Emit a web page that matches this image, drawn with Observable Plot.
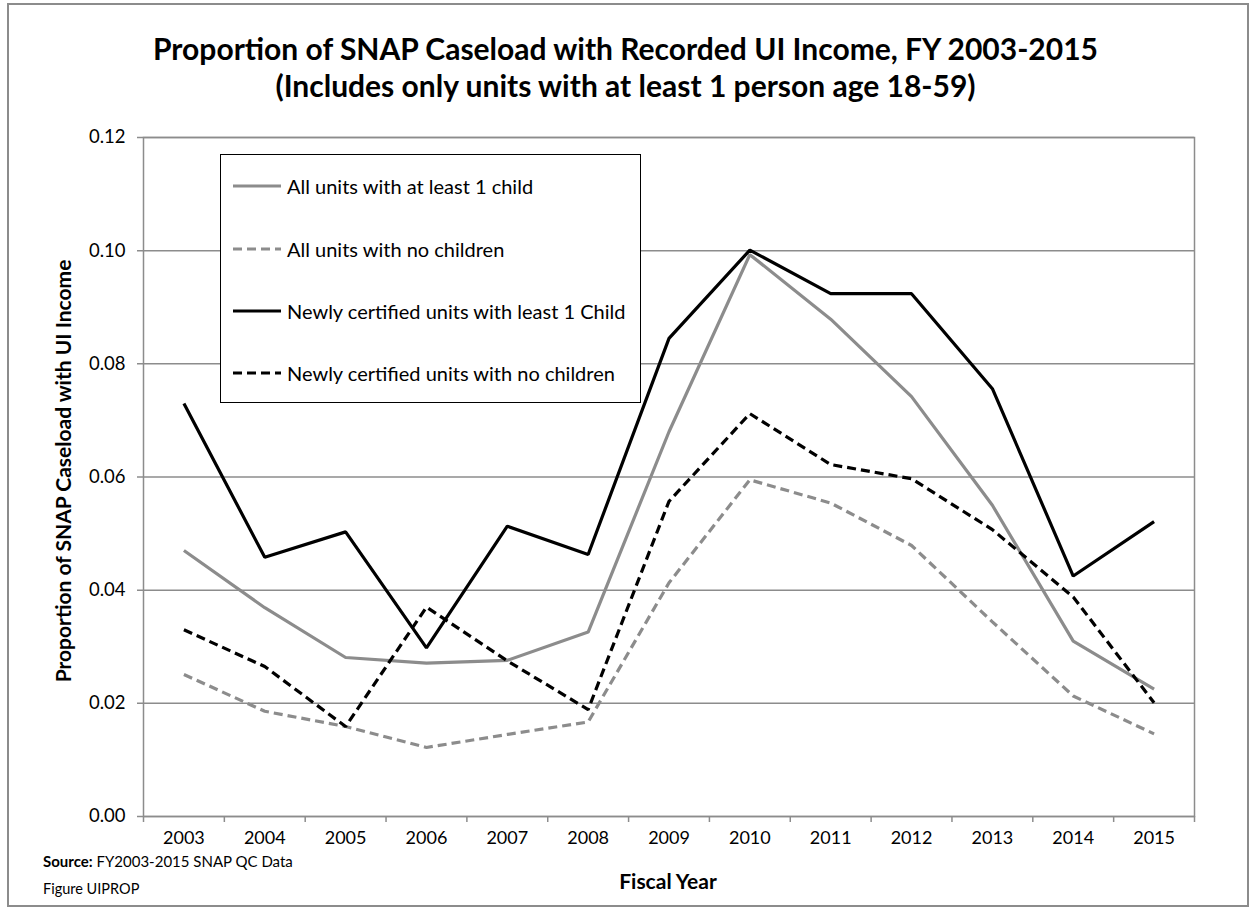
<!DOCTYPE html>
<html>
<head>
<meta charset="utf-8">
<script src="https://cdn.jsdelivr.net/npm/d3@7"></script>
<script src="https://cdn.jsdelivr.net/npm/@observablehq/plot@0.6"></script>
<style>
  html, body { margin: 0; padding: 0; background: #fff; }
  #wrap { position: relative; width: 1251px; height: 909px; overflow: hidden; font-family: "Lato", "Open Sans", sans-serif; color: #000; }
  #border { position: absolute; left: 7px; top: 3px; width: 1242px; height: 904px; border: 2px solid #8c8c8c; box-sizing: border-box; }
  .title { position: absolute; left: 0; width: 1251px; text-align: center; font-weight: bold; font-size: 30px; line-height: 36px; }
  #legend { position: absolute; left: 220px; top: 154px; width: 421px; height: 249px; border: 1.5px solid #000; box-sizing: border-box; background: #fff; }
  .lg { position: absolute; left: 12px; height: 24px; display: flex; align-items: center; font-size: 20px; white-space: nowrap; }
  .lg svg { margin-right: 6px; }
  #plot { position: absolute; left: 0; top: 0; }
  .abs { position: absolute; white-space: nowrap; }
</style>
</head>
<body>
<div id="wrap">
  <div id="plot"></div>
  <div id="border"></div>
  <div class="title" id="t1" style="top:30px;"></div>
  <div class="title" id="t2" style="top:67px;"></div>
  <div id="legend"></div>
  <div class="abs" id="ytitle" style="left:62px; top:471px; transform: translate(-50%,-50%) rotate(-90deg); font-weight:bold; font-size:21px;"></div>
  <div class="abs" id="xtitle" style="left:668px; top:880px; transform: translate(-50%,-50%); font-weight:bold; font-size:21px;"></div>
  <div class="abs" id="source" style="left:43px; top:852px; font-size:15px;"></div>
  <div class="abs" id="figure" style="left:43px; top:880px; font-size:14.5px;"></div>
</div>
<script>
// ---- data ----
const years = [2003, 2004, 2005, 2006, 2007, 2008, 2009, 2010, 2011, 2012, 2013, 2014, 2015];
const allUnitsChild   = [0.0470, 0.0369, 0.0281, 0.0271, 0.0276, 0.0326, 0.0680, 0.0993, 0.0879, 0.0742, 0.0550, 0.0310, 0.0225];
const allUnitsNoChild = [0.0251, 0.0186, 0.0159, 0.0122, 0.0145, 0.0167, 0.0413, 0.0595, 0.0554, 0.0479, 0.0344, 0.0213, 0.0146];
const newUnitsChild   = [0.0730, 0.0458, 0.0503, 0.0298, 0.0513, 0.0463, 0.0845, 0.1001, 0.0924, 0.0924, 0.0756, 0.0425, 0.0521];
const newUnitsNoChild = [0.0330, 0.0265, 0.0159, 0.0370, 0.0275, 0.0189, 0.0557, 0.0712, 0.0622, 0.0597, 0.0507, 0.0388, 0.0201];
const seriesNames = [
  "All units with at least 1 child",
  "All units with no children",
  "Newly certified units with least 1 Child",
  "Newly certified units with no children"
];
const yTicks = [0, 0.02, 0.04, 0.06, 0.08, 0.10, 0.12];
const titleLines = [
  "Proportion of SNAP Caseload with Recorded UI Income, FY 2003-2015",
  "(Includes only units with at least 1 person age 18-59)"
];
const yTitle = "Proportion of SNAP Caseload with UI Income";
const xTitle = "Fiscal Year";
const sourceText = "FY2003-2015 SNAP QC Data";
const figureText = "Figure UIPROP";

// ---- styles ----
const GRAY = "#8c8c8c";
const styles = [
  {stroke: GRAY, dash: null},
  {stroke: GRAY, dash: "9,5"},
  {stroke: "#000", dash: null},
  {stroke: "#000", dash: "9,5"}
];
const valueArrays = [allUnitsChild, allUnitsNoChild, newUnitsChild, newUnitsNoChild];
const table = valueArrays.map((vals, k) => years.map((yr, i) => ({year: yr, value: vals[i], series: seriesNames[k]})));
const boundaries = years.map(y => y - 0.5).concat([years[years.length - 1] + 0.5]);

const chart = Plot.plot({
  width: 1251,
  height: 909,
  marginLeft: 143,
  marginRight: 57,
  marginTop: 137,
  marginBottom: 93,
  style: {fontFamily: "Lato, 'Open Sans', sans-serif", fontSize: "18px", color: "#000", background: "transparent"},
  x: {domain: [boundaries[0], boundaries[boundaries.length - 1]], ticks: years, tickFormat: d => String(d), tickSize: 0, tickPadding: 15, label: null},
  y: {domain: [0, 0.12], axis: null},
  marks: [
    Plot.ruleY(yTicks, {stroke: GRAY, strokeWidth: 1.5, insetLeft: -6}),
    Plot.ruleX(boundaries, {y1: 0, y2: 0, insetBottom: -6, stroke: GRAY, strokeWidth: 1.5}),
    Plot.frame({stroke: GRAY, strokeWidth: 1.5}),
    Plot.text(yTicks, {y: d => d, frameAnchor: "left", textAnchor: "end", dx: -18, text: d => d3.format(".2f")(d), fontSize: 18.5}),
    ...table.map((rows, k) => Plot.line(rows, {
      x: "year", y: "value",
      stroke: styles[k].stroke, strokeWidth: 3.2,
      strokeDasharray: styles[k].dash || undefined,
      strokeLinejoin: "miter", strokeLinecap: "butt"
    }))
  ]
});
document.getElementById("plot").appendChild(chart);

document.getElementById("t1").textContent = titleLines[0];
document.getElementById("t2").textContent = titleLines[1];
document.getElementById("ytitle").textContent = yTitle;
document.getElementById("xtitle").textContent = xTitle;
document.getElementById("source").innerHTML = "<b>Source:</b> " + sourceText;
document.getElementById("figure").textContent = figureText;

const legend = document.getElementById("legend");
const rowTops = [19, 82, 144, 206];
seriesNames.forEach((name, k) => {
  const row = document.createElement("div");
  row.className = "lg";
  row.style.top = rowTops[k] + "px";
  const dash = styles[k].dash ? `stroke-dasharray="${styles[k].dash}"` : "";
  row.innerHTML = `<svg width="48" height="6"><line x1="0" y1="3" x2="48" y2="3" stroke="${styles[k].stroke}" stroke-width="3.2" ${dash}/></svg><span></span>`;
  row.querySelector("span").textContent = name;
  legend.appendChild(row);
});
</script>
</body>
</html>
